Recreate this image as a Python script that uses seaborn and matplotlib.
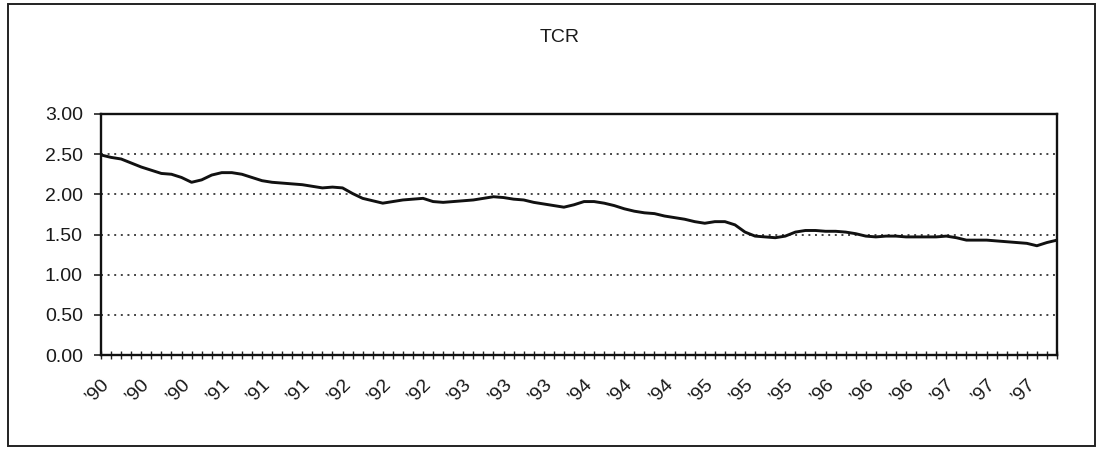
import numpy as np
import pandas as pd
import matplotlib
matplotlib.use("Agg")
import matplotlib.pyplot as plt
import seaborn as sns
from matplotlib.patches import Rectangle

# ---- data (monthly, Jan 1990 .. Dec 1997) ----
years = ["90", "91", "92", "93", "94", "95", "96", "97"]
tcr_values = [
    2.49, 2.46, 2.44, 2.39, 2.34, 2.30, 2.26, 2.25, 2.21, 2.15, 2.18, 2.24,
    2.27, 2.27, 2.25, 2.21, 2.17, 2.15, 2.14, 2.13, 2.12, 2.10, 2.08, 2.09,
    2.08, 2.01, 1.95, 1.92, 1.89, 1.91, 1.93, 1.94, 1.95, 1.91, 1.90, 1.91,
    1.92, 1.93, 1.95, 1.97, 1.96, 1.94, 1.93, 1.90, 1.88, 1.86, 1.84, 1.87,
    1.91, 1.91, 1.89, 1.86, 1.82, 1.79, 1.77, 1.76, 1.73, 1.71, 1.69, 1.66,
    1.64, 1.66, 1.66, 1.62, 1.53, 1.48, 1.47, 1.46, 1.48, 1.53, 1.55, 1.55,
    1.54, 1.54, 1.53, 1.51, 1.48, 1.47, 1.48, 1.48, 1.47, 1.47, 1.47, 1.47,
    1.48, 1.46, 1.43, 1.43, 1.43, 1.42, 1.41, 1.40, 1.39, 1.36, 1.40, 1.43,
]
months_per_label = 4
title = "TCR"
y_ticks = [0.0, 0.5, 1.0, 1.5, 2.0, 2.5, 3.0]

period = np.arange(len(tcr_values))
month_year = [years[i // 12] for i in period]
df = pd.DataFrame({"period": period, "TCR": tcr_values, "year": month_year})

sns.set_theme(style="white")
plt.rcParams["font.family"] = ["Liberation Sans", "DejaVu Sans"]

fig = plt.figure(figsize=(10.98, 4.49), dpi=100)
ax = fig.add_axes([101 / 1098, 1 - 355 / 449, 956 / 1098, 241 / 449])

sns.lineplot(data=df, x="period", y="TCR", ax=ax, color="#111111", linewidth=2.1)

ax.set_xlim(0, len(tcr_values) - 1)
ax.set_ylim(0, 3.0)
ax.set_yticks(y_ticks)
ax.set_yticklabels([f"{v:.2f}" for v in y_ticks], fontsize=14, color="#1a1a1a")

label_pos = period[::months_per_label]
ax.set_xticks(label_pos)
ax.set_xticklabels(["\u2019" + month_year[i] for i in label_pos], fontsize=14,
                   color="#1a1a1a", rotation=45, ha="right",
                   rotation_mode="anchor")
ax.set_xticks(period, minor=True)
ax.tick_params(axis="x", which="both", direction="inout", length=6, width=1,
               color="#222222", pad=12, bottom=True)
ax.tick_params(axis="y", which="major", direction="out", length=5, width=1.2,
               color="#222222", pad=8, left=True)

for v in y_ticks[1:-1]:
    ax.axhline(v, color="#444444", linestyle=(0, (1, 2.4)), linewidth=1.4,
               zorder=0)

for s in ax.spines.values():
    s.set_visible(True)
    s.set_color("#111111")
    s.set_linewidth(1.7)

ax.set_xlabel("")
ax.set_ylabel("")

fig.text(560 / 1098, 1 - 38 / 449, title, ha="center", va="center",
         fontsize=14, color="#1a1a1a")

fig.patches.append(Rectangle((8 / 1098, 1 - 446 / 449), 1087 / 1098, 442 / 449,
                             transform=fig.transFigure, fill=False,
                             edgecolor="#222222", linewidth=1.4))

fig.savefig("out.png", dpi=100, facecolor="white")
